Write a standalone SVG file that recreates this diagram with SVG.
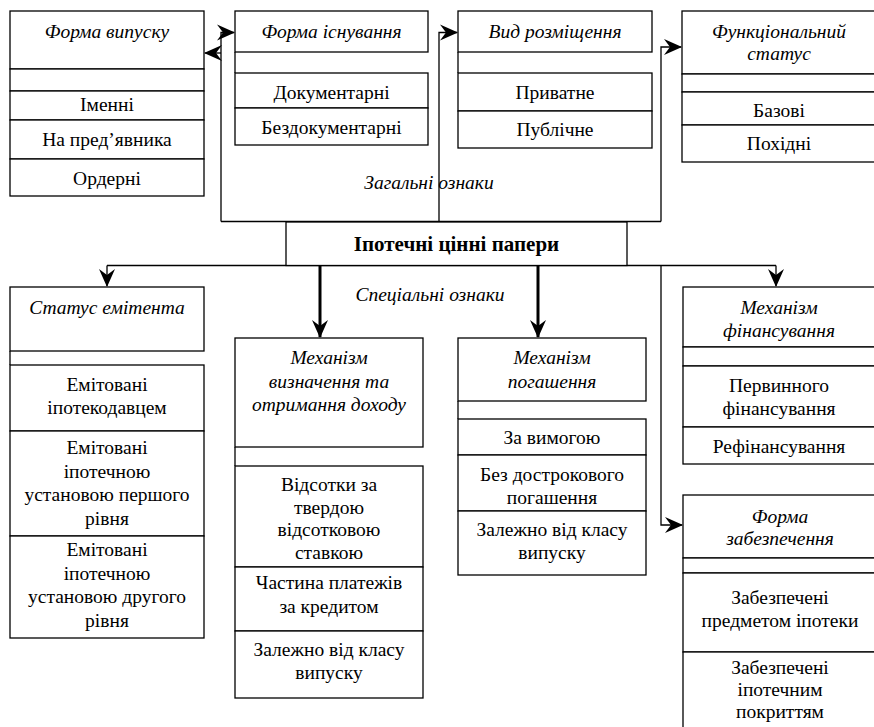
<svg xmlns="http://www.w3.org/2000/svg" width="874" height="727" viewBox="0 0 874 727">
<defs>
<marker id="arr" markerUnits="userSpaceOnUse" markerWidth="18" markerHeight="18" viewBox="0 0 18 18" refX="17" refY="9" orient="auto">
<path d="M0,1 L18,9 L0,17 L6,9 Z" fill="#000"/>
</marker>
</defs>
<style>
.bx{fill:#fff;stroke:#000;stroke-width:1.3}
.ln{fill:none;stroke:#000;stroke-width:1.3}
.th{fill:none;stroke:#000;stroke-width:3}
.i{font-style:italic}
.b{font-weight:bold;font-size:21px}
</style>
<rect width="874" height="727" fill="#fff"/>
<g id="connectors">
<path class="ln" d="M221,221.5 H661"/>
<path class="ln" d="M221,221.5 V32.5 H234" marker-end="url(#arr)"/>
<path class="ln" d="M221,53 H205" marker-end="url(#arr)"/>
<path class="ln" d="M439,221.5 V32.5 H457" marker-end="url(#arr)"/>
<path class="ln" d="M661,221.5 V47 H681" marker-end="url(#arr)"/>
<path class="ln" d="M107,265.5 H776"/>
<path class="ln" d="M107,265.5 V286" marker-end="url(#arr)"/>
<path class="ln" d="M776,265.5 V286" marker-end="url(#arr)"/>
<path class="th" d="M320,266 V337" marker-end="url(#arr)"/>
<path class="th" d="M538,266 V337" marker-end="url(#arr)"/>
<path class="ln" d="M661,265.5 V525 H682" marker-end="url(#arr)"/>
</g>
<g font-family="Liberation Serif, Times New Roman, Tinos, Noto Serif, DejaVu Serif, serif" font-size="19.5" text-anchor="middle" fill="#000">
<g id="labels">
<text class="i" x="429" y="189">Загальні ознаки</text>
<text class="i" x="430" y="301">Спеціальні ознаки</text>
</g>
<g id="n-main">
<rect class="bx" x="286" y="222" width="341" height="43.5"/>
<text class="b" x="456.5" y="251">Іпотечні цінні папери</text>
</g>
<g id="n-forma-vypusku">
<rect class="bx" x="10" y="11" width="194" height="58"/>
<rect class="bx" x="10" y="69" width="194" height="22"/>
<rect class="bx" x="10" y="91" width="194" height="29"/>
<rect class="bx" x="10" y="120" width="194" height="39"/>
<rect class="bx" x="10" y="159" width="194" height="37"/>
<text class="i" x="107" y="38">Форма випуску</text>
<text x="107" y="111">Іменні</text>
<text x="107" y="146">На пред’явника</text>
<text x="107" y="185">Ордерні</text>
</g>
<g id="n-forma-isnuvannia">
<rect class="bx" x="235" y="11" width="193" height="41"/>
<path class="ln" d="M235,52 V73"/>
<rect class="bx" x="235" y="73" width="193" height="35"/>
<rect class="bx" x="235" y="108" width="193" height="37"/>
<text class="i" x="331.5" y="38">Форма існування</text>
<text x="331.5" y="99">Документарні</text>
<text x="331.5" y="134">Бездокументарні</text>
</g>
<g id="n-vyd-rozmishchennia">
<rect class="bx" x="458" y="11" width="194" height="41"/>
<path class="ln" d="M458,52 V73"/>
<rect class="bx" x="458" y="73" width="194" height="38"/>
<rect class="bx" x="458" y="111" width="194" height="37"/>
<text class="i" x="555" y="38">Вид розміщення</text>
<text x="555" y="99">Приватне</text>
<text x="555" y="136">Публічне</text>
</g>
<g id="n-funktsionalnyi-status">
<rect class="bx" x="682" y="11" width="196" height="63"/>
<rect class="bx" x="682" y="74" width="196" height="18"/>
<rect class="bx" x="682" y="92" width="196" height="33"/>
<rect class="bx" x="682" y="125" width="196" height="37"/>
<text class="i" x="779" y="38">Функціональний</text>
<text class="i" x="779" y="60">статус</text>
<text x="779" y="117">Базові</text>
<text x="779" y="150">Похідні</text>
</g>
<g id="n-status-emitenta">
<rect class="bx" x="10" y="287" width="194" height="64"/>
<path class="ln" d="M10,351 V365"/>
<rect class="bx" x="10" y="365" width="194" height="66"/>
<rect class="bx" x="10" y="431" width="194" height="105"/>
<rect class="bx" x="10" y="536" width="194" height="102"/>
<text class="i" x="107" y="314">Статус емітента</text>
<text x="107" y="391">Емітовані</text>
<text x="107" y="414">іпотекодавцем</text>
<text x="107" y="454">Емітовані</text>
<text x="107" y="477.5">іпотечною</text>
<text x="107" y="501">установою першого</text>
<text x="107" y="524.5">рівня</text>
<text x="107" y="556">Емітовані</text>
<text x="107" y="579.5">іпотечною</text>
<text x="107" y="603">установою другого</text>
<text x="107" y="626.5">рівня</text>
</g>
<g id="n-mekhanizm-dokhodu">
<rect class="bx" x="235" y="338" width="188" height="109"/>
<path class="ln" d="M235,447 V466"/>
<rect class="bx" x="235" y="466" width="188" height="101"/>
<rect class="bx" x="235" y="567" width="188" height="64"/>
<rect class="bx" x="235" y="631" width="188" height="67"/>
<text class="i" x="329" y="364">Механізм</text>
<text class="i" x="329" y="388">визначення та</text>
<text class="i" x="329" y="411">отримання доходу</text>
<text x="329" y="491">Відсотки за</text>
<text x="329" y="513.5">твердою</text>
<text x="329" y="536">відсотковою</text>
<text x="329" y="558.5">ставкою</text>
<text x="329" y="589">Частина платежів</text>
<text x="329" y="613">за кредитом</text>
<text x="329" y="656">Залежно від класу</text>
<text x="329" y="679">випуску</text>
</g>
<g id="n-mekhanizm-pohashennia">
<rect class="bx" x="458" y="338" width="188" height="63"/>
<path class="ln" d="M458,401 V419"/>
<rect class="bx" x="458" y="419" width="188" height="36"/>
<rect class="bx" x="458" y="455" width="188" height="56"/>
<rect class="bx" x="458" y="511" width="188" height="64"/>
<text class="i" x="552" y="364">Механізм</text>
<text class="i" x="552" y="388">погашення</text>
<text x="552" y="444">За вимогою</text>
<text x="552" y="481">Без дострокового</text>
<text x="552" y="504">погашення</text>
<text x="552" y="536">Залежно від класу</text>
<text x="552" y="559">випуску</text>
</g>
<g id="n-mekhanizm-finansuvannia">
<rect class="bx" x="683" y="287" width="195" height="60"/>
<rect class="bx" x="683" y="347" width="195" height="19"/>
<rect class="bx" x="683" y="366" width="195" height="61"/>
<rect class="bx" x="683" y="427" width="195" height="37"/>
<text class="i" x="779" y="314">Механізм</text>
<text class="i" x="779" y="337">фінансування</text>
<text x="779" y="392">Первинного</text>
<text x="779" y="415">фінансування</text>
<text x="779" y="453">Рефінансування</text>
</g>
<g id="n-forma-zabezpechennia">
<rect class="bx" x="683" y="495" width="195" height="63"/>
<rect class="bx" x="683" y="558" width="195" height="15"/>
<rect class="bx" x="683" y="573" width="195" height="79"/>
<rect class="bx" x="683" y="652" width="195" height="80"/>
<text class="i" x="780" y="523">Форма</text>
<text class="i" x="780" y="545">забезпечення</text>
<text x="780" y="604">Забезпечені</text>
<text x="780" y="627">предметом іпотеки</text>
<text x="780" y="674">Забезпечені</text>
<text x="780" y="696">іпотечним</text>
<text x="780" y="718">покриттям</text>
</g>
</g>
</svg>
